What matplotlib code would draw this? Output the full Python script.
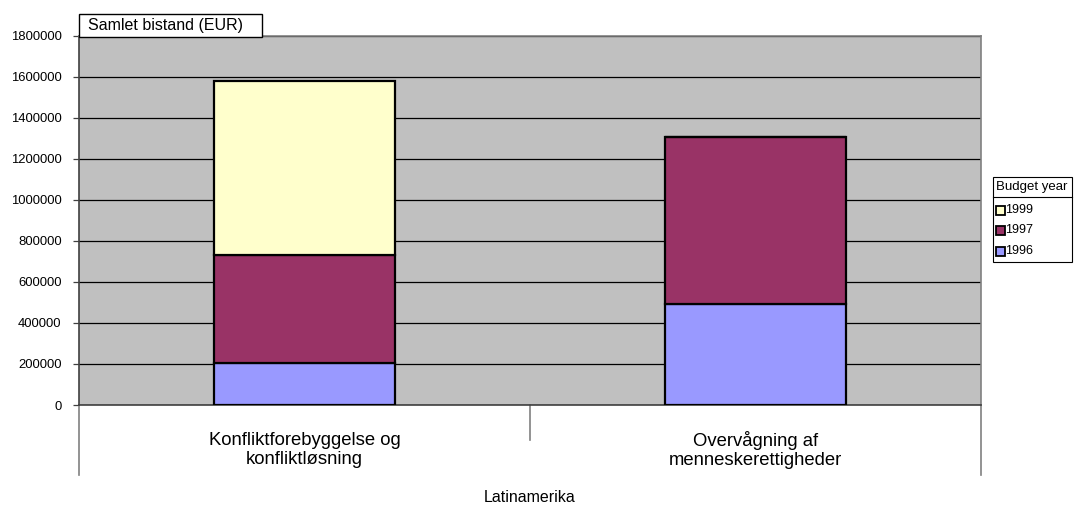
import matplotlib
matplotlib.use("Agg")
import matplotlib.pyplot as plt
from matplotlib.patches import Rectangle
from matplotlib.lines import Line2D
from matplotlib.transforms import blended_transform_factory

plt.rcParams["font.family"] = ["Liberation Sans", "DejaVu Sans"]

# Data
categories = ["Konfliktforebyggelse og\nkonfliktløsning", "Overvågning af\nmenneskerettigheder"]
group_label = "Latinamerika"
years = ["1996", "1997", "1999"]
values_1996 = [205000, 493000]
values_1997 = [526000, 811000]
values_1999 = [848000, 0]
series = [values_1996, values_1997, values_1999]
colors = ["#9999FF", "#993366", "#FFFFCC"]
y_ticks = list(range(0, 1800001, 200000))
y_title = "Samlet bistand (EUR)"
legend_title = "Budget year"

W, H = 1075, 508
fig = plt.figure(figsize=(W / 100, H / 100), dpi=100)

def fx(px):
    return px / W

def fy(py):
    return 1 - py / H

left, right, top, bottom = 79, 981, 35.5, 405
ax = fig.add_axes([fx(left), fy(bottom), fx(right - left), (bottom - top) / H])
ax.set_facecolor("#C0C0C0")

x = list(range(len(categories)))
base = [0] * len(categories)
for vals, col in zip(series, colors):
    ax.bar(x, vals, width=0.4, bottom=base, color=col, edgecolor="black",
           linewidth=1.6, zorder=3)
    base = [b + v for b, v in zip(base, vals)]

ax.set_xlim(-0.5, len(categories) - 0.5)
ax.set_ylim(0, 1800000)
ax.set_yticks(y_ticks)
ax.set_yticklabels([str(t) for t in y_ticks], fontsize=9.4)
ax.yaxis.grid(True, color="black", linewidth=0.9, zorder=1)
ax.set_axisbelow(True)
ax.tick_params(axis="y", direction="out", length=4.5, width=0.9, color="#404040", pad=8)
ax.tick_params(axis="x", bottom=False, labelbottom=False)

for s in ["top", "right"]:
    ax.spines[s].set_color("#808080")
    ax.spines[s].set_linewidth(1.2)
ax.spines["left"].set_color("#404040")
ax.spines["left"].set_linewidth(1.2)
ax.spines["bottom"].set_color("#404040")
ax.spines["bottom"].set_linewidth(1.2)

# Category axis below the plot
tr = blended_transform_factory(ax.transData, ax.transAxes)
h = bottom - top
long_drop = -70 / h
short_drop = -35 / h
for xpos, drop in [(-0.5, long_drop), (0.5, short_drop), (len(categories) - 0.5, long_drop)]:
    ax.add_line(Line2D([xpos, xpos], [0, drop], transform=tr, color="#808080",
                       linewidth=1.2, clip_on=False))
for xi, lab in zip(x, categories):
    ax.text(xi, -45 / h, lab, transform=tr, ha="center", va="center",
            fontsize=13.3, linespacing=1.22)
ax.text((len(categories) - 1) / 2, -92 / h, group_label, transform=tr,
        ha="center", va="center", fontsize=11.5)

# Value axis title box
fig.patches.append(Rectangle((fx(79), fy(37)), fx(262 - 79), (37 - 14) / H,
                             transform=fig.transFigure, facecolor="white",
                             edgecolor="black", linewidth=1, zorder=5))
fig.text(fx(88), fy(25.5), y_title, fontsize=11.5, ha="left", va="center", zorder=6)

# Legend
lx0, lx1, ly0, ly1 = 993, 1072, 177, 262
fig.patches.append(Rectangle((fx(lx0), fy(ly1)), fx(lx1 - lx0), (ly1 - ly0) / H,
                             transform=fig.transFigure, facecolor="white",
                             edgecolor="black", linewidth=0.8))
fig.add_artist(Line2D([fx(lx0), fx(lx1)], [fy(197), fy(197)],
                      transform=fig.transFigure, color="black", linewidth=0.8))
fig.text(fx(995.5), fy(187), legend_title, fontsize=9.5, ha="left", va="center")
entry_y = [210, 230, 251]
for ey, yr, col in zip(entry_y, years[::-1], colors[::-1]):
    fig.patches.append(Rectangle((fx(996), fy(ey + 4.5)), fx(9), 9 / H,
                                 transform=fig.transFigure, facecolor=col,
                                 edgecolor="black", linewidth=1.3))
    fig.text(fx(1005.5), fy(ey), yr, fontsize=9, ha="left", va="center")

fig.savefig("out.png", dpi=100, facecolor="white")
